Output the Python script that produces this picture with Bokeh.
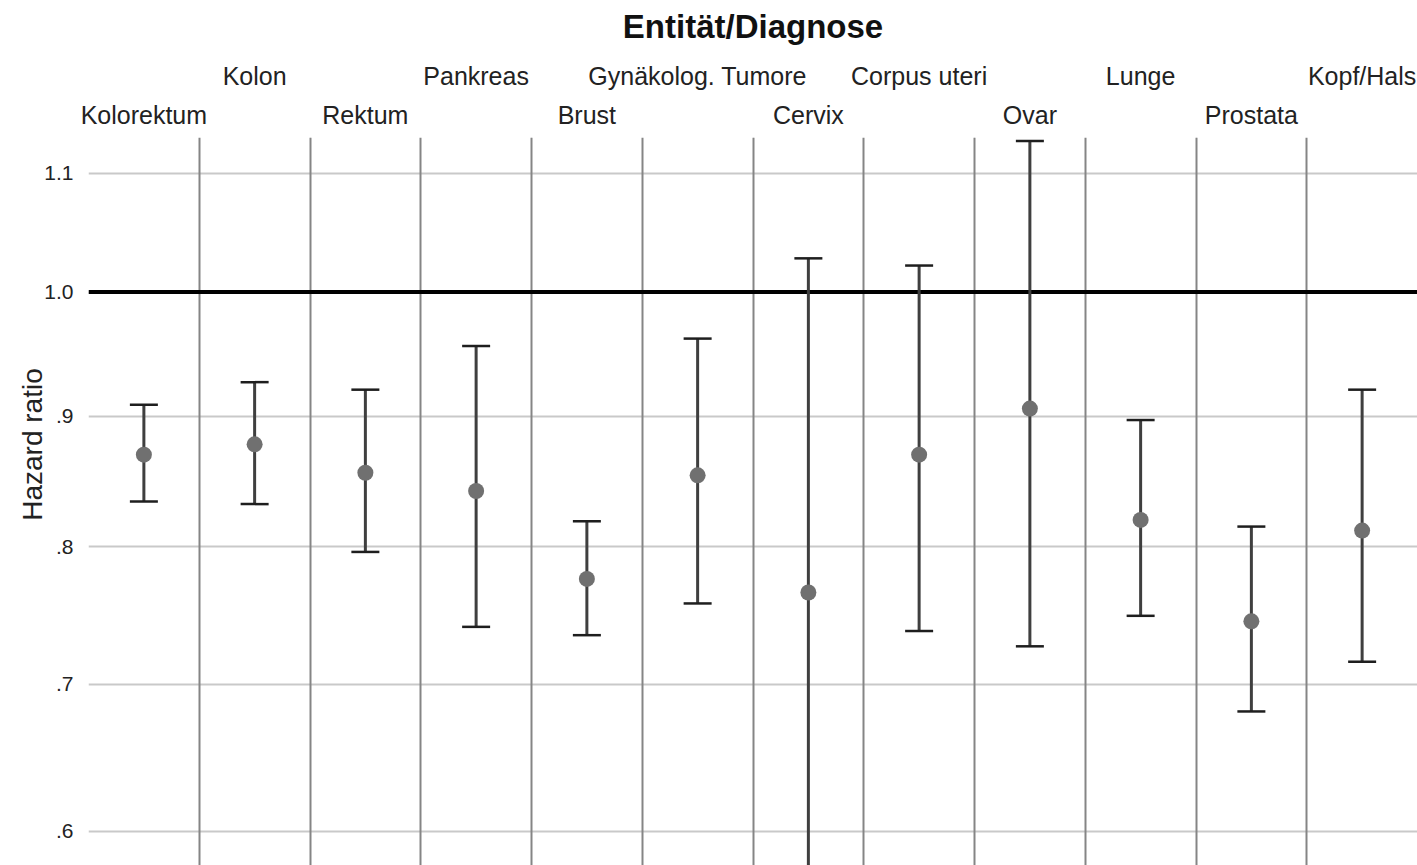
import math
from bokeh.plotting import figure
from bokeh.models import (ColumnDataSource, Range1d, FixedTicker, Grid, Span,
                          LinearAxis, CustomJSTickFormatter)
from bokeh.embed import file_html
from bokeh.resources import INLINE

# ---------------- data ----------------
categories = ["Kolorektum", "Kolon", "Rektum", "Pankreas", "Brust",
              "Gynäkolog. Tumore", "Cervix", "Corpus uteri", "Ovar",
              "Lunge", "Prostata", "Kopf/Hals"]
hazard_ratio = [0.870, 0.878, 0.856, 0.842, 0.776, 0.854,
                0.766, 0.870, 0.906, 0.820, 0.745, 0.812]
ci_lower = [0.834, 0.832, 0.796, 0.741, 0.735, 0.758,
            0.571, 0.738, 0.727, 0.749, 0.681, 0.716]
ci_upper = [0.909, 0.927, 0.921, 0.956, 0.819, 0.962,
            1.028, 1.022, 1.128, 0.897, 0.815, 0.921]
y_ticks = [0.6, 0.7, 0.8, 0.9, 1.0, 1.1]
y_tick_labels = [".6", ".7", ".8", ".9", "1.0", "1.1"]
y_min, y_max = 0.5775, 1.131
reference_hr = 1.0
title_text = "Entität/Diagnose"
y_label = "Hazard ratio"

# power scale of the value axis
P = 0.56
def tr(v):
    return v ** P

FONT = "Liberation Sans"
W, H = 1417, 865
TOP, LEFT = 137, 88
n = len(categories)
t_top, t_bot = tr(y_max), tr(y_min)
px_per_t = (H - TOP) / (t_top - t_bot)

p = figure(width=W, height=H, x_range=Range1d(0, n),
           y_range=Range1d(t_bot, t_top),
           output_backend="svg", toolbar_location=None,
           x_axis_location=None, title_location=None,
           min_border_left=LEFT, min_border_right=0,
           min_border_top=TOP, min_border_bottom=0)
p.outline_line_color = None
p.background_fill_color = "white"

# ---- value axis (nearest the frame) ----
yticker = FixedTicker(ticks=[tr(v) for v in y_ticks])
p.yaxis.ticker = yticker
p.yaxis.formatter = CustomJSTickFormatter(
    args=dict(tt=[tr(v) for v in y_ticks], labels=y_tick_labels),
    code="""
    for (let i = 0; i < tt.length; i++) {
        if (Math.abs(tt[i] - tick) < 1e-7) return labels[i];
    }
    return "";
    """)
p.yaxis.axis_line_color = None
p.yaxis.major_tick_line_color = None
p.yaxis.minor_tick_line_color = None
p.yaxis.major_label_standoff = 9
p.yaxis.major_label_text_font = FONT
p.yaxis.major_label_text_font_size = "21px"
p.yaxis.major_label_text_color = "#222222"

# ---- axis title, placed as a single rotated label further left ----
ylab_pos = t_top - (444 - TOP) / px_per_t
ylab_axis = LinearAxis(ticker=FixedTicker(ticks=[ylab_pos]),
                       formatter=CustomJSTickFormatter(args=dict(s=y_label),
                                                       code="return s;"),
                       axis_line_color=None, major_tick_line_color=None,
                       minor_tick_line_color=None, major_tick_out=0,
                       major_label_orientation="vertical",
                       major_label_standoff=-6,
                       major_label_text_font=FONT,
                       major_label_text_font_size="28px",
                       major_label_text_color="#222222")
p.add_layout(ylab_axis, "left")

# ---- staggered category labels (two rows) + heading above the panels ----
name_fmt = CustomJSTickFormatter(args=dict(names=categories),
                                 code="return names[Math.floor(tick)];")
for row, standoff in ((0, 9), (1, 8)):
    ax = LinearAxis(ticker=FixedTicker(ticks=[i + 0.5 for i in range(row, n, 2)]),
                    formatter=name_fmt,
                    axis_line_color=None, major_tick_line_color=None,
                    minor_tick_line_color=None, major_tick_out=0,
                    major_label_standoff=standoff,
                    major_label_text_font=FONT,
                    major_label_text_font_size="25px",
                    major_label_text_color="#222222")
    p.add_layout(ax, "above")

title_axis = LinearAxis(ticker=FixedTicker(ticks=[n / 2]),
                        formatter=CustomJSTickFormatter(args=dict(s=title_text),
                                                        code="return s;"),
                        axis_line_color=None, major_tick_line_color=None,
                        minor_tick_line_color=None, major_tick_out=0,
                        major_label_standoff=14,
                        major_label_text_font=FONT,
                        major_label_text_font_style="bold",
                        major_label_text_font_size="33px",
                        major_label_text_color="#111111")
p.add_layout(title_axis, "above")

# ---- grids and reference line ----
p.ygrid.ticker = yticker
p.ygrid.grid_line_color = "#c9c9c9"
p.ygrid.grid_line_width = 2

xgrid = Grid(dimension=0, ticker=FixedTicker(ticks=list(range(n + 1))),
             grid_line_color="#858585", grid_line_width=2)
p.add_layout(xgrid)

p.add_layout(Span(location=tr(reference_hr), dimension="width",
                  line_color="black", line_width=4, level="underlay"))

# ---- estimates with confidence intervals ----
xs = [i + 0.5 for i in range(n)]
src = ColumnDataSource(dict(
    x=xs,
    hr=[tr(v) for v in hazard_ratio],
    lo=[tr(v) for v in ci_lower],
    hi=[tr(v) for v in ci_upper],
))

p.segment(x0="x", y0="lo", x1="x", y1="hi", source=src,
          line_color="#3f3f3f", line_width=3)
p.scatter(x="x", y="hi", source=src, marker="dash", size=28,
          line_color="#1e1e1e", line_width=2.5)
p.scatter(x="x", y="lo", source=src, marker="dash", size=28,
          line_color="#1e1e1e", line_width=2.5)
p.scatter(x="x", y="hr", source=src, marker="circle", size=16,
          fill_color="#707070", line_color=None)

open("out.html", "w").write(file_html(p, INLINE))
